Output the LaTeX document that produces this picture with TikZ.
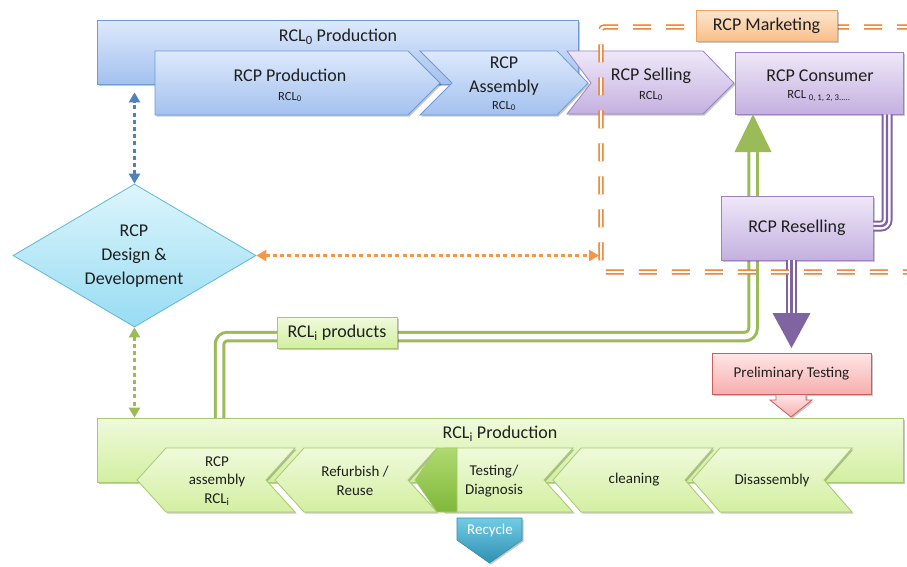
\documentclass[tikz,border=0pt]{standalone}
\usepackage{fontspec}
\setmainfont{Carlito}
\usetikzlibrary{shapes.geometric,arrows.meta,shadows}
\definecolor{btop}{HTML}{DDE9FC}
\definecolor{bbot}{HTML}{A3C1EF}
\definecolor{bline}{HTML}{6E9AD6}
\definecolor{ptop}{HTML}{EFE8F8}
\definecolor{pbot}{HTML}{C4B0E0}
\definecolor{pline}{HTML}{9A82C4}
\definecolor{gtop}{HTML}{F0FADC}
\definecolor{gbot}{HTML}{D2EFA0}
\definecolor{gline}{HTML}{A8CA6E}
\definecolor{rtop}{HTML}{FFE6E6}
\definecolor{rbot}{HTML}{F7AEAE}
\definecolor{rline}{HTML}{D05C5C}
\definecolor{otop}{HTML}{FDE6D0}
\definecolor{obot}{HTML}{F9BF88}
\definecolor{oline}{HTML}{F3A25E}
\definecolor{dtop}{HTML}{DDF5FC}
\definecolor{dbot}{HTML}{97DCF3}
\definecolor{dline}{HTML}{5DB8D6}
\definecolor{cytop}{HTML}{72CBE4}
\definecolor{cybot}{HTML}{2F90B2}
\definecolor{gtritop}{HTML}{AFDA70}
\definecolor{gtribot}{HTML}{7FB83A}
\definecolor{gconn}{HTML}{9BBB59}
\definecolor{pconn}{HTML}{8064A2}
\definecolor{odash}{HTML}{EE7A22}
\definecolor{odot}{HTML}{F79646}
\definecolor{bdotc}{HTML}{4F81BD}
\begin{document}
\begin{tikzpicture}[x=1pt,y=-1pt,
  txt/.style={text=black!88, inner sep=0pt},
  f18/.style={txt, font=\fontsize{18}{24}\selectfont, align=center},
  f15/.style={txt, font=\fontsize{15}{18.5}\selectfont, align=center},
  f11/.style={txt, font=\fontsize{12.5}{14}\selectfont},
  shd/.style={drop shadow={shadow xshift=1.5pt, shadow yshift=-1.5pt, opacity=0.22, fill=black}},
  bluebox/.style={draw=bline, line width=0.8pt, top color=btop, bottom color=bbot, shd},
  purbox/.style={draw=pline, line width=0.8pt, top color=ptop, bottom color=pbot, shd},
  grbox/.style={draw=gline, line width=0.8pt, top color=gtop, bottom color=gbot, shd},
  pinkbox/.style={draw=rline, line width=0.8pt, top color=rtop, bottom color=rbot, shd},
  orbox/.style={draw=oline, line width=0.8pt, top color=otop, bottom color=obot, shd},
  gdouble/.style={draw=gconn, line width=3pt, double=white, double distance=5.5pt, rounded corners=8pt},
  ptriple/.style={draw=pconn, line width=11pt, rounded corners=6pt,
     postaction={draw=white, line width=7pt},
     postaction={draw=pconn, line width=2.4pt}},
  dotarrow/.style={line width=3.6pt, dash pattern=on 4pt off 3.2pt,
     {Triangle[length=10pt,width=11pt]}-{Triangle[length=10pt,width=11pt]}},
  mframe/.style={draw=odash, line width=1.5pt, double=white, double distance=2.4pt,
     dash pattern=on 18pt off 15pt, rounded corners=3pt}
]
\useasboundingbox[fill=white] (0,0) rectangle (907,566);

% ---- RCL0 production (top, blue)
\node[bluebox, inner sep=0pt, minimum width=481pt, minimum height=64pt] (rcl0) at (337.5,52) {};
\node[f18] (rcl0t) at (338,37) {RCL\textsubscript{0} Production};

\path[bluebox] (155,51) -- (408,51) -- (440,83) -- (408,115) -- (155,115) -- cycle;
\node[f18] (prodt) at (290,75) {RCP Production};
\node[f11] (prods) at (290,97) {RCL\textsubscript{0}};

\path[bluebox] (420,51) -- (557,51) -- (588,83) -- (557,115) -- (420,115) -- (452,83) -- cycle;
\node[f18] (asst) at (504,76) {RCP\\Assembly};
\node[f11] (asss) at (504,106) {RCL\textsubscript{0}};

% ---- selling and consumer (purple)
\path[purbox] (567,51) -- (703,51) -- (734,83) -- (703,114) -- (567,114) -- (591,83) -- cycle;
\node[f18] (sellt) at (651,76) {RCP Selling};
\node[f11] (sells) at (651,96) {RCL\textsubscript{0}};

\node[purbox, inner sep=0pt, minimum width=168pt, minimum height=62pt] (cons) at (819,83) {};
\node[f18] (const) at (820,76) {RCP Consumer};
\node[f11] (conss) at (819,96) {RCL \textsubscript{0, 1, 2, 3.....}};

% ---- connectors behind reselling
\coordinate (gstart) at (219.5,420);
\coordinate (gturn) at (753,336.5);
\coordinate (gend) at (753,152);
\draw[gdouble] (gstart) |- (gturn) -- (gend);

\node[purbox, inner sep=0pt, minimum width=152pt, minimum height=64pt] (resell) at (797,228) {};
\node[f18] (resellt) at (797,228) {RCP Reselling};

\draw[ptriple] (cons.south -| 887,0) |- (resell.east |- 0,226);
\coordinate (pdown) at (791.5,313);
\draw[ptriple] (resell.south -| pdown) -- (pdown);

% ---- marketing frame
\draw[mframe] (915,27) -- (601,27) -- (601,272) -- (915,272);
\node[orbox, inner sep=0pt, minimum width=141pt, minimum height=31pt] (mkt) at (766.5,25.5) {};
\node[f18] (mktt) at (766.5,25.5) {RCP Marketing};

% ---- design & development
\node[diamond, draw=dline, line width=0.8pt, top color=dtop, bottom color=dbot, inner sep=0pt,
      minimum width=243pt, minimum height=143pt] (dd) at (134.5,255.5) {};
\node[f18] (ddt) at (134,256) {RCP\\Design \&\\Development};

\coordinate (mkL) at (599,255.5);
\draw[dotarrow, odot] (dd.east) -- (mkL);
\draw[dotarrow, bdotc, shorten >=8pt] (dd.north) -- (dd.north |- rcl0.south);

% ---- RCLi products label
\node[grbox, inner sep=0pt, minimum width=120pt, minimum height=31pt] (prodl) at (337,332.5) {};
\node[f18] (prodlt) at (337,332.5) {RCL\textsubscript{i} products};

% ---- RCLi production (bottom, green)
\node[grbox, inner sep=0pt, minimum width=806pt, minimum height=64pt] (rcli) at (500,450) {};
\node[f18] (rclit) at (500,434) {RCL\textsubscript{i} Production};

\draw[dotarrow, gconn] (dd.south) -- (dd.south |- rcli.north);

\path[grbox] (137,480) -- (166,448) -- (295,448) -- (266,480) -- (295,512) -- (166,512) -- cycle;
\node[f15] (asmt) at (217,481) {RCP\\assembly\\RCL\textsubscript{i}};

\path[grbox] (275,480) -- (304,448) -- (437,448) -- (408,480) -- (437,512) -- (304,512) -- cycle;
\node[f15] (reft) at (355,481) {Refurbish /\\Reuse};

\path[grbox] (415,480) -- (444,448) -- (573,448) -- (544,480) -- (573,512) -- (444,512) -- cycle;
\path[draw=gline, line width=0.6pt, top color=gtritop, bottom color=gtribot]
   (415,480) -- (437,448) -- (457,448) -- (457,512) -- (437,512) -- cycle;
\node[f15] (testt) at (494,481) {Testing/\\Diagnosis};

\path[grbox] (553,480) -- (581,448) -- (713,448) -- (685,480) -- (713,512) -- (581,512) -- cycle;
\node[f15] (cleant) at (634,480) {cleaning};

\path[grbox] (692,480) -- (720,448) -- (852,448) -- (824,480) -- (852,512) -- (720,512) -- cycle;
\node[f15] (disst) at (772,480) {Disassembly};

% ---- recycle
\path[draw=cybot, line width=0.6pt, top color=cytop, bottom color=cybot, shd]
   (457,518) -- (522,518) -- (522,540) -- (489.5,563) -- (457,540) -- cycle;
\node[txt, font=\fontsize{15}{17}\selectfont, text=white] (recyt) at (490,530) {Recycle};

% ---- preliminary testing
\node[pinkbox, inner sep=0pt, minimum width=159pt, minimum height=41pt] (pret) at (791.5,373.5) {};
\node[f15] (prett) at (791.5,373.5) {Preliminary Testing};
\path[pinkbox] (pret.south -| 776,0) -- (776,400) -- (770,400) -- (791,417) -- (812,400) -- (806,400) -- (pret.south -| 806,0) -- cycle;

% ---- big arrow heads
\fill[pconn] (pdown) ++(-19,0) -- ++(38,0) -- (pdown |- 0,348) -- cycle;
\fill[gconn] (gend) ++(-18.5,0) -- ++(37,0) -- (cons.south -| gend) -- cycle;
\end{tikzpicture}
\end{document}
